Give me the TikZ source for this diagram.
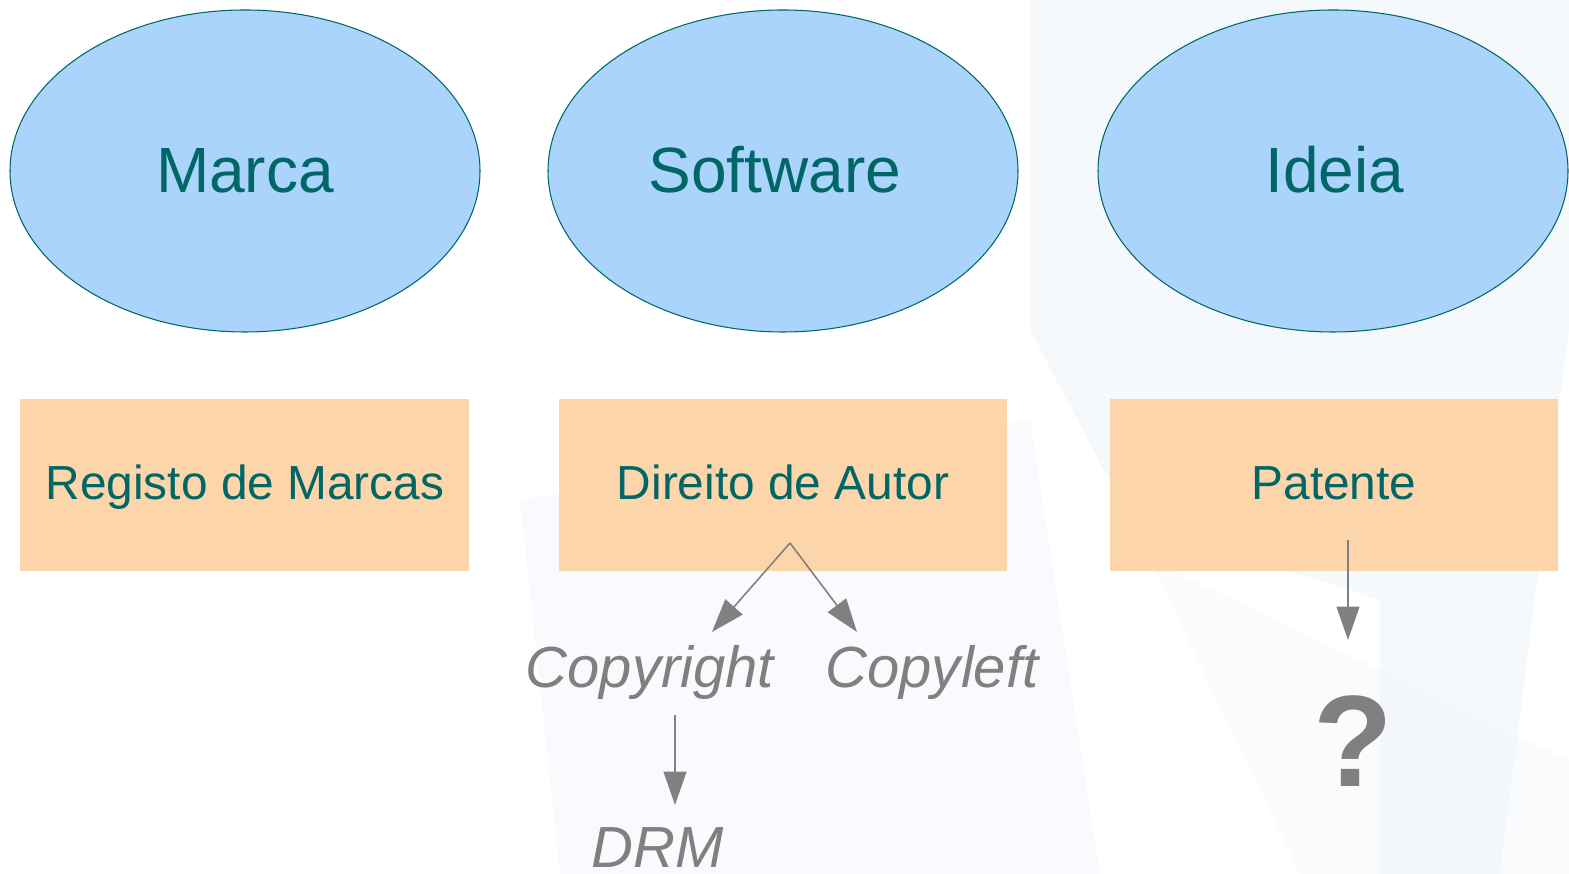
\documentclass[tikz,border=0pt]{standalone}
\usepackage{fontspec}
\setmainfont{Liberation Sans}
\usetikzlibrary{shapes.geometric,arrows.meta}
\definecolor{teal}{RGB}{0,102,102}
\definecolor{ellfill}{RGB}{170,212,252}
\definecolor{recfill}{RGB}{252,213,170}
\definecolor{arrgray}{RGB}{128,128,128}
\definecolor{wm}{RGB}{236,242,248}
\begin{document}
\begin{tikzpicture}[x=0.01cm,y=-0.01cm,
  elltext/.style={text=teal,font=\fontsize{18.2}{22}\selectfont,anchor=base,inner sep=0pt},
  boxtext/.style={text=teal,font=\fontsize{13.6}{17}\selectfont,anchor=base,inner sep=0pt},
  sub/.style={text=arrgray,font=\itshape\fontsize{16.5}{20}\selectfont,inner sep=0pt,anchor=base},
  arr/.style={draw=arrgray,line width=0.45pt,-{Triangle[length=9.5pt,width=6.5pt]}}]
\useasboundingbox (0,0) rectangle (1569,874);
% faint watermark background
\fill[wm,opacity=0.45] (1030,0) -- (1569,0) -- (1569,330) -- (1500,874) -- (1380,874) -- (1380,600) -- (1130,520) -- (1030,330) -- cycle;
\fill[wm,opacity=0.35] (520,500) -- (1030,420) -- (1100,874) -- (560,874) -- cycle;
\fill[wm,opacity=0.3] (1150,560) -- (1569,760) -- (1569,874) -- (1300,874) -- cycle;
% ellipses
\path[draw=teal,line width=0.3pt,fill=ellfill] (245,171) ellipse [x radius=235,y radius=161];
\path[draw=teal,line width=0.3pt,fill=ellfill] (783,171) ellipse [x radius=235,y radius=161];
\path[draw=teal,line width=0.3pt,fill=ellfill] (1333,171) ellipse [x radius=235,y radius=161];
\node[elltext] (marca) at (245,193) {Marca};
\node[elltext] (software) at (775,193) {Software};
\node[elltext] (ideia) at (1335,193) {Ideia};
% boxes
\fill[recfill] (20,399) rectangle (469,571);
\fill[recfill] (559,399) rectangle (1007,571);
\fill[recfill] (1110,399) rectangle (1558,571);
\node[boxtext] (registo) at (245,500) {Registo de Marcas};
\node[boxtext] (direito) at (783,500) {Direito de Autor};
\node[boxtext] (patente) at (1334,500) {Patente};
% sub nodes
\node[sub] (copyright) at (650,688) {Copyright};
\node[sub] (copyleft) at (932,688) {Copyleft};
\node[sub] (drm) at (658,868) {DRM};
\node[text=arrgray,font=\bfseries\fontsize{37}{40}\selectfont,inner sep=0pt,anchor=base] (quest) at (1353,787) {?};
% connector coordinates
\coordinate (dsrc) at (790,543);
\coordinate (cyrtip) at (712,632);
\coordinate (cyltip) at (857,632);
\coordinate (psrc) at (1348,540);
\coordinate (ptip) at (1348,640);
\coordinate (csrc) at (675,715);
\coordinate (ctip) at (675,805);
\draw[arr] (dsrc) -- (cyrtip);
\draw[arr] (dsrc) -- (cyltip);
\draw[arr] (psrc) -- (ptip);
\draw[arr] (csrc) -- (ctip);
\end{tikzpicture}
\end{document}
